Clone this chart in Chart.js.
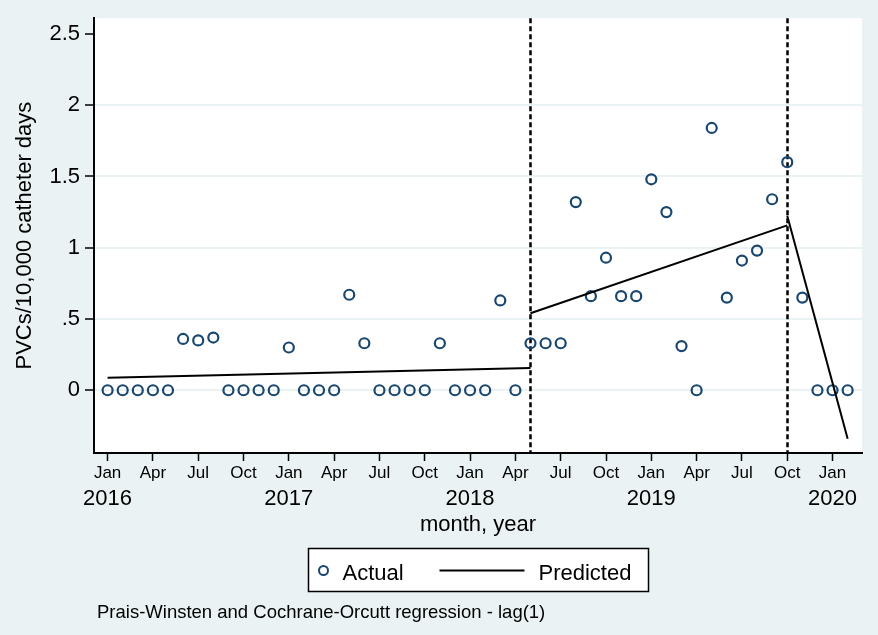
<!DOCTYPE html>
<html>
<head>
<meta charset="utf-8">
<script src="https://cdn.jsdelivr.net/npm/chart.js@4.4.0/dist/chart.umd.min.js"></script>
<style>
  html, body { margin: 0; padding: 0; background: #eaf2f3; }
  canvas { display: block; }
</style>
</head>
<body>
<canvas id="chart" width="878" height="635"></canvas>
<script>
// Monthly observation periods
const months = [
  '2016-01','2016-02','2016-03','2016-04','2016-05','2016-06','2016-07','2016-08','2016-09','2016-10','2016-11','2016-12',
  '2017-01','2017-02','2017-03','2017-04','2017-05','2017-06','2017-07','2017-08','2017-09','2017-10','2017-11','2017-12',
  '2018-01','2018-02','2018-03','2018-04','2018-05','2018-06','2018-07','2018-08','2018-09','2018-10','2018-11','2018-12',
  '2019-01','2019-02','2019-03','2019-04','2019-05','2019-06','2019-07','2019-08','2019-09','2019-10','2019-11','2019-12',
  '2020-01','2020-02'
];

// Observed PVC rate per 10,000 catheter days
const actual = [
  0, 0, 0, 0, 0, 0.36, 0.35, 0.37, 0, 0, 0, 0,
  0.30, 0, 0, 0, 0.67, 0.33, 0, 0, 0, 0, 0.33, 0,
  0, 0, 0.63, 0, 0.33, 0.33, 0.33, 1.32, 0.66, 0.93, 0.66, 0.66,
  1.48, 1.25, 0.31, 0, 1.84, 0.65, 0.91, 0.98, 1.34, 1.60, 0.65, 0,
  0, 0
];

// Fitted segmented regression: each segment runs between two month indexes
const segmentMonths = [[0, 28], [28, 45], [45, 49]];
const segmentStart = [0.087, 0.54, 1.225];
const segmentEnd = [0.157, 1.157, -0.34];

// Interruption points (month indexes)
const interventionMonths = [28, 45];

// Axis ticks
const monthTickValues = [0, 3, 6, 9, 12, 15, 18, 21, 24, 27, 30, 33, 36, 39, 42, 45, 48];
const monthTickLabels = ['Jan','Apr','Jul','Oct','Jan','Apr','Jul','Oct','Jan','Apr','Jul','Oct','Jan','Apr','Jul','Oct','Jan'];
const yearTickValues = [0, 12, 24, 36, 48];
const yearTickLabels = ['2016', '2017', '2018', '2019', '2020'];
const yTickValues = [0, 0.5, 1, 1.5, 2, 2.5];
const yTickLabels = ['0', '.5', '1', '1.5', '2', '2.5'];

const NAVY = '#1a476f';
const BG = '#eaf2f3';
const GRID = '#eaf2f3';
const FONT = '"Liberation Sans", Arial, Helvetica, sans-serif';

Chart.defaults.font.family = FONT;
Chart.defaults.color = '#000';

const X_MIN = -0.9, X_MAX = 49.95;

const backgroundPlugin = {
  id: 'background',
  beforeDraw(chart) {
    const { ctx, chartArea: a } = chart;
    ctx.save();
    ctx.fillStyle = BG;
    ctx.fillRect(0, 0, chart.width, chart.height);
    ctx.fillStyle = '#fff';
    ctx.fillRect(a.left, a.top, a.right - a.left, a.bottom - a.top);
    ctx.restore();
  }
};

const interventionPlugin = {
  id: 'interventions',
  beforeDatasetsDraw(chart) {
    const { ctx, chartArea: a, scales } = chart;
    ctx.save();
    ctx.strokeStyle = '#000';
    ctx.lineWidth = 2.5;
    ctx.setLineDash([5, 3]);
    interventionMonths.forEach(m => {
      const x = Math.round(scales.x.getPixelForValue(m)) + 0.5;
      ctx.beginPath();
      ctx.moveTo(x, a.top);
      ctx.lineTo(x, a.bottom);
      ctx.stroke();
    });
    ctx.restore();
  }
};

const legendPlugin = {
  id: 'boxLegend',
  afterDraw(chart) {
    const { ctx, chartArea: a } = chart;
    const yearScale = chart.scales.year;
    const cx = (a.left + a.right) / 2;
    const boxW = 340, boxH = 43;
    const bx = Math.round(cx - boxW / 2) + 0.5;
    const by = Math.round(yearScale.bottom + 9) + 0.5;
    const midY = by + 22;
    ctx.save();
    ctx.fillStyle = '#fff';
    ctx.fillRect(bx, by, boxW, boxH);
    ctx.strokeStyle = '#000';
    ctx.lineWidth = 1.5;
    ctx.strokeRect(bx, by, boxW, boxH);

    // Actual marker
    ctx.strokeStyle = NAVY;
    ctx.lineWidth = 2;
    ctx.beginPath();
    ctx.arc(bx + 15, midY, 4.5, 0, Math.PI * 2);
    ctx.stroke();

    ctx.fillStyle = '#000';
    ctx.font = '22px ' + FONT;
    ctx.textBaseline = 'alphabetic';
    ctx.textAlign = 'left';
    ctx.fillText(chart.data.datasets[0].label, bx + 34, by + 31);

    // Predicted line
    ctx.strokeStyle = '#000';
    ctx.lineWidth = 2;
    ctx.beginPath();
    ctx.moveTo(bx + 131, midY);
    ctx.lineTo(bx + 216, midY);
    ctx.stroke();
    ctx.fillText(chart.data.datasets[1].label, bx + 230, by + 31);

    // Note
    ctx.font = '18.5px ' + FONT;
    ctx.fillText('Prais-Winsten and Cochrane-Orcutt regression - lag(1)', a.left + 3, 618);
    ctx.restore();
  }
};

const predictedSets = segmentMonths.map((m, k) => ({
  label: 'Predicted',
  type: 'line',
  data: [{ x: m[0], y: segmentStart[k] }, { x: m[1], y: segmentEnd[k] }],
  borderColor: '#000',
  borderWidth: 2,
  pointRadius: 0,
  pointHoverRadius: 0,
  fill: false,
  tension: 0,
  order: 1
}));

new Chart(document.getElementById('chart'), {
  type: 'scatter',
  data: {
    datasets: [
      {
        label: 'Actual',
        data: actual.map((v, i) => ({ x: i, y: v, month: months[i] })),
        showLine: false,
        pointStyle: 'circle',
        pointRadius: 5,
        pointHoverRadius: 5,
        pointBorderWidth: 2.2,
        borderColor: NAVY,
        backgroundColor: 'rgba(0,0,0,0)',
        order: 2
      },
      ...predictedSets
    ]
  },
  options: {
    responsive: false,
    animation: false,
    devicePixelRatio: 1,
    events: [],
    layout: { padding: { top: 17, right: 16, bottom: 96, left: 0 } },
    plugins: { legend: { display: false }, tooltip: { enabled: false } },
    scales: {
      x: {
        type: 'linear',
        position: 'bottom',
        min: X_MIN,
        max: X_MAX,
        weight: 0,
        afterBuildTicks: s => { s.ticks = monthTickValues.map(v => ({ value: v })); },
        afterFit: s => { s.height = 30; },
        ticks: {
          autoSkip: false, maxRotation: 0, padding: 2,
          font: { size: 17 }, color: '#000',
          callback: (v, i) => monthTickLabels[i]
        },
        grid: { drawOnChartArea: false, tickLength: 8, tickColor: '#000', tickWidth: 1.5 },
        border: { display: true, color: '#000', width: 2 }
      },
      year: {
        type: 'linear',
        axis: 'x',
        position: 'bottom',
        min: X_MIN,
        max: X_MAX,
        weight: 1,
        afterBuildTicks: s => { s.ticks = yearTickValues.map(v => ({ value: v })); },
        afterFit: s => { s.height = 56; },
        ticks: {
          autoSkip: false, maxRotation: 0, padding: 3,
          font: { size: 22 }, color: '#000',
          callback: (v, i) => yearTickLabels[i]
        },
        grid: { display: false, drawTicks: false },
        border: { display: false },
        title: { display: true, text: 'month, year', font: { size: 22 }, color: '#000', padding: { top: 0, bottom: 1 } }
      },
      y: {
        type: 'linear',
        min: -0.44,
        max: 2.61,
        afterBuildTicks: s => { s.ticks = yTickValues.map(v => ({ value: v })); },
        afterFit: s => { s.width = 94; },
        ticks: {
          padding: 5, font: { size: 22 }, color: '#000',
          callback: (v, i) => yTickLabels[i]
        },
        grid: {
          color: c => (c.tick && c.tick.value === 2.5) ? 'rgba(0,0,0,0)' : GRID,
          lineWidth: 2,
          tickLength: 9,
          tickColor: '#000',
          tickWidth: 1.5
        },
        border: { display: true, color: '#000', width: 2 },
        title: { display: true, text: 'PVCs/10,000 catheter days', font: { size: 22 }, color: '#000', padding: { top: 12, bottom: 0 } }
      }
    }
  },
  plugins: [backgroundPlugin, interventionPlugin, legendPlugin]
});
</script>
</body>
</html>
